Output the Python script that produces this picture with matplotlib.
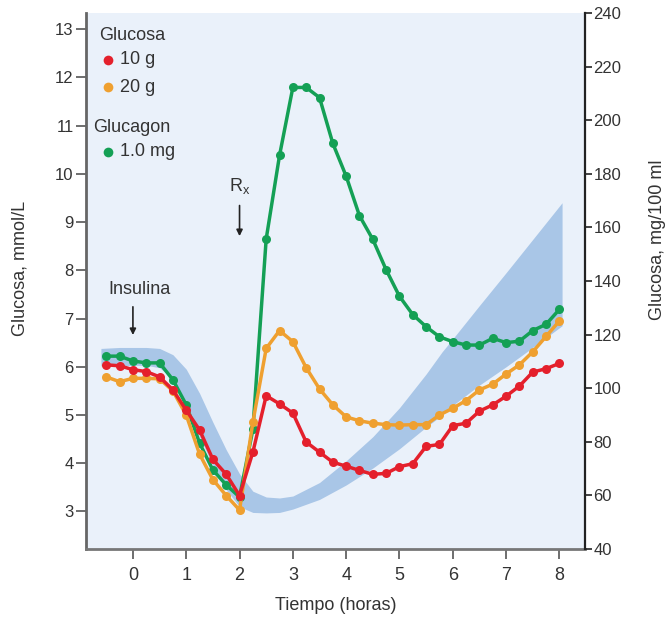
import matplotlib
matplotlib.use("Agg")
import matplotlib.pyplot as plt
from matplotlib.lines import Line2D

plt.rcParams['font.family'] = ['Liberation Sans', 'DejaVu Sans']

# ---- data (glucose, mmol/L) ----
time_h = [-0.5, -0.25, 0, 0.25, 0.5, 0.75, 1.0, 1.25, 1.5, 1.75, 2.0,
          2.25, 2.5, 2.75, 3.0, 3.25, 3.5, 3.75, 4.0, 4.25, 4.5, 4.75, 5.0,
          5.25, 5.5, 5.75, 6.0, 6.25, 6.5, 6.75, 7.0, 7.25, 7.5, 7.75, 8.0]

glucosa_10g = [6.04, 6.02, 5.94, 5.90, 5.79, 5.52, 5.10, 4.69, 4.08, 3.77, 3.33,
               4.23, 5.40, 5.23, 5.04, 4.44, 4.23, 4.02, 3.94, 3.85, 3.77, 3.79,
               3.93, 3.99, 4.35, 4.39, 4.78, 4.83, 5.08, 5.21, 5.39, 5.60, 5.89,
               5.96, 6.07]

glucosa_20g = [5.79, 5.69, 5.76, 5.76, 5.75, 5.50, 5.00, 4.19, 3.66, 3.33, 3.03,
               4.85, 6.38, 6.75, 6.52, 5.98, 5.54, 5.21, 4.96, 4.88, 4.83, 4.80,
               4.79, 4.80, 4.80, 5.00, 5.14, 5.30, 5.52, 5.64, 5.85, 6.04, 6.31,
               6.63, 6.95]

glucagon_1mg = [6.22, 6.22, 6.12, 6.08, 6.08, 5.73, 5.21, 4.42, 3.86, 3.55, 3.30,
                4.70, 8.65, 10.38, 11.79, 11.79, 11.58, 10.63, 9.95, 9.13, 8.64,
                8.01, 7.46, 7.08, 6.83, 6.62, 6.52, 6.45, 6.45, 6.59, 6.50, 6.53,
                6.75, 6.88, 7.19]

# shaded reference band (insulin response), edges
band_x = [-0.6, -0.25, 0, 0.25, 0.5, 0.75, 1.0, 1.25, 1.5, 1.75, 2.0, 2.25,
          2.5, 2.75, 3.0, 3.5, 4.0, 4.5, 5.0, 5.5, 5.8, 6.0, 6.5, 7.0, 7.5, 8.05]
band_upper = [6.38, 6.40, 6.40, 6.40, 6.38, 6.25, 5.95, 5.45, 4.85, 4.28, 3.78,
              3.42, 3.30, 3.28, 3.32, 3.60, 4.05, 4.55, 5.15, 5.85, 6.31, 6.58,
              7.27, 7.95, 8.64, 9.40]
band_lower = [6.02, 6.02, 6.03, 6.03, 5.98, 5.75, 5.20, 4.55, 3.95, 3.45, 3.10,
              2.98, 2.97, 2.98, 3.05, 3.25, 3.55, 3.90, 4.30, 4.75, 5.00, 5.20,
              5.62, 6.00, 6.40, 6.85]

left_ticks = [3, 4, 5, 6, 7, 8, 9, 10, 11, 12, 13]
right_ticks = [40, 60, 80, 100, 120, 140, 160, 180, 200, 220, 240]
x_ticks = [0, 1, 2, 3, 4, 5, 6, 7, 8]

c_red = '#E4202C'
c_orange = '#EFA030'
c_green = '#14A055'
c_band = '#A9C6E7'
c_bg = '#EAF1FA'

W, H = 666, 619
fig = plt.figure(figsize=(W / 100, H / 100), dpi=100)
ax = fig.add_axes([86 / W, 70 / H, (585 - 86) / W, (549 - 13) / H])
ax.set_facecolor(c_bg)

ax.fill_between(band_x, band_lower, band_upper, color=c_band, lw=0, zorder=1)

kw = dict(lw=2.5, marker='o', ms=6.5, mew=0, zorder=3)
ax.plot(time_h, glucagon_1mg, color=c_green, **kw)
ax.plot(time_h, glucosa_20g, color=c_orange, **kw)
ax.plot(time_h, glucosa_10g, color=c_red, **kw)

ax.set_xlim(-0.88, 8.48)
ax.set_ylim(40 / 18, 240 / 18)
ax.set_xticks(x_ticks)
ax.set_yticks(left_ticks)
ax.tick_params(axis='y', direction='out', length=7, width=1.2, color='#555555',
               labelsize=12, labelcolor='#333333', pad=2)
ax.tick_params(axis='x', direction='out', length=7, width=1.2, color='#555555',
               labelsize=13, labelcolor='#333333', pad=6)
ax.spines['top'].set_visible(False)
ax.spines['left'].set_color('#666666')
ax.spines['left'].set_linewidth(2)
ax.spines['bottom'].set_color('#777777')
ax.spines['bottom'].set_linewidth(2)
ax.spines['right'].set_visible(False)

ax2 = ax.twinx()
ax2.set_ylim(40, 240)
ax2.set_yticks(right_ticks)
ax2.tick_params(axis='y', direction='out', length=5, width=1.2, color='#222222',
                labelsize=12, labelcolor='#333333', pad=1)
for s in ['top', 'left', 'bottom']:
    ax2.spines[s].set_visible(False)
ax2.spines['right'].set_color('#222222')
ax2.spines['right'].set_linewidth(1.6)

ax.set_xlabel('Tiempo (horas)', fontsize=13, color='#333333', labelpad=9)
fig.text(20 / W, 1 - 268 / H, 'Glucosa, mmol/L', rotation=90, fontsize=13,
         color='#333333', ha='center', va='center')
fig.text(657 / W, 1 - 240 / H, 'Glucosa, mg/100 ml', rotation=90, fontsize=13,
         color='#333333', ha='center', va='center')

# annotations
ax.annotate('', xy=(0, 6.6), xytext=(0, 7.3),
            arrowprops=dict(arrowstyle='-|>', color='#222222', lw=1.2,
                            mutation_scale=9))
ax.text(0.13, 7.6, 'Insulina', fontsize=13, color='#333333', ha='center',
        va='center')
ax.annotate('', xy=(2.0, 8.65), xytext=(2.0, 9.4),
            arrowprops=dict(arrowstyle='-|>', color='#222222', lw=1.2,
                            mutation_scale=9))
ax.text(2.0, 9.75, r'R$_\mathregular{x}$', fontsize=13, color='#333333',
        ha='center', va='center')

# legend (manual)
def fx(px):
    return px / W

def fy(py):
    return 1 - py / H

fig.text(fx(99), fy(35), 'Glucosa', fontsize=13, color='#333333', va='center')
fig.text(fx(93), fy(127), 'Glucagon', fontsize=13, color='#333333', va='center')
for py, col, lab in [(60, c_red, '10 g'), (87, c_orange, '20 g'),
                     (152, c_green, '1.0 mg')]:
    fig.add_artist(Line2D([fx(108)], [fy(py)], marker='o', ms=7, mew=0,
                          color=col, transform=fig.transFigure))
    fig.text(fx(120), fy(py), lab, fontsize=13, color='#333333', va='center')

fig.savefig('out.png', dpi=100)
